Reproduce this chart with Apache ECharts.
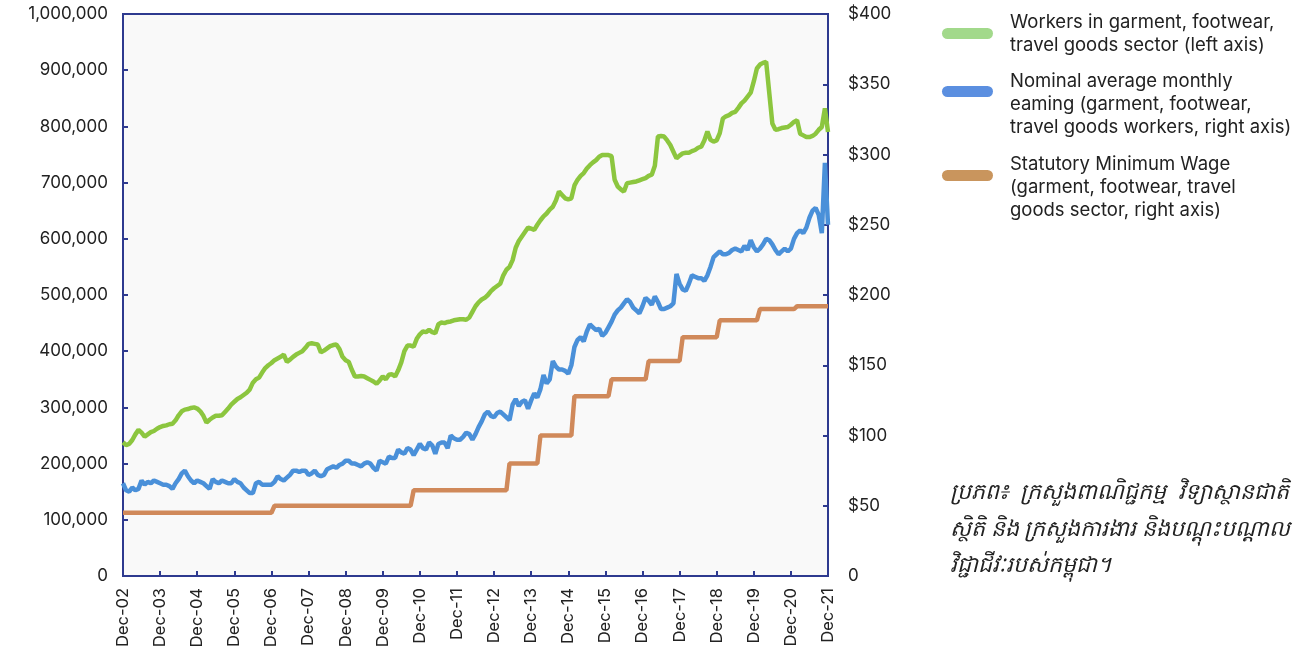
<!DOCTYPE html>
<html>
<head>
<meta charset="utf-8">
<script src="https://cdn.jsdelivr.net/npm/echarts@6/dist/echarts.min.js"></script>
<style>
html,body{margin:0;padding:0;background:#ffffff;}
#chart{width:1306px;height:652px;}
</style>
</head>
<body>
<div id="chart"></div>
<script>
// ---- Categories (monthly, Dec-02 .. Dec-21) ----
const monthNames = ['Jan','Feb','Mar','Apr','May','Jun','Jul','Aug','Sep','Oct','Nov','Dec'];
const categories = ['Dec-02'];
for (let y = 2003; y <= 2021; y++) {
  for (let m = 0; m < 12; m++) categories.push(monthNames[m] + '-' + String(y).slice(2));
}

// ---- Series values ----
// Workers in garment, footwear, travel goods sector (left axis)
const workers = [
  238000,
  233000,235000,242000,252000,260000,255000,248000,252000,256000,258000,262000,265000, // 2003
  267000,268000,270000,271000,277000,286000,293000,296000,297000,299000,300000,298000, // 2004
  293000,285000,273000,278000,282000,285000,285000,286000,292000,298000,305000,310000, // 2005
  315000,318000,322000,326000,332000,344000,350000,353000,362000,370000,375000,379000, // 2006
  384000,387000,390000,394000,381000,385000,390000,394000,397000,400000,406000,413000, // 2007
  414000,413000,412000,398000,401000,405000,409000,411000,412000,404000,390000,384000, // 2008
  381000,367000,355000,355000,356000,355000,352000,349000,346000,342000,348000,355000, // 2009
  350000,358000,359000,355000,366000,380000,400000,410000,410000,408000,422000,430000, // 2010
  435000,434000,438000,434000,432000,448000,451000,450000,452000,453000,455000,456000, // 2011
  457000,457000,456000,460000,470000,480000,487000,492000,495000,500000,507000,512000, // 2012
  516000,520000,535000,545000,550000,562000,584000,596000,604000,612000,620000,618000, // 2013
  616000,625000,633000,640000,645000,652000,657000,668000,684000,678000,672000,670000, // 2014
  672000,695000,705000,712000,717000,725000,731000,736000,740000,746000,749000,749000, // 2015
  749000,747000,705000,693000,688000,684000,699000,700000,701000,702000,704000,706000, // 2016
  708000,712000,714000,730000,782000,783000,782000,775000,767000,755000,743000,748000, // 2017
  752000,753000,753000,756000,758000,762000,764000,775000,791000,776000,773000,775000, // 2018
  788000,814000,818000,820000,824000,826000,833000,841000,846000,853000,860000,880000, // 2019
  903000,910000,913000,915000,860000,805000,794000,795000,797000,798000,799000,803000, // 2020
  808000,811000,787000,784000,781000,781000,783000,787000,794000,799000,832000,790000  // 2021
];

// Nominal average monthly earning, USD (right axis)
const earnings = [
  66,
  61,60,63,61,62,68,65,67,66,68,67,66,             // 2003
  65,65,64,62,66,69,73,75,71,68,66,68,             // 2004
  67,66,64,62,69,67,66,68,67,66,66,69,             // 2005
  67,66,63,61,59,59,66,67,65,65,65,65,             // 2006
  67,71,69,68,70,72,75,75,74,75,75,72,             // 2007
  73,75,72,71,72,76,77,78,77,79,80,82,             // 2008
  82,80,80,79,78,80,81,80,77,75,82,81,             // 2009
  80,85,84,84,90,88,87,91,90,86,90,94,             // 2010
  91,90,95,93,87,94,95,95,91,100,98,97,            // 2011
  97,99,102,101,97,101,106,110,115,117,114,113,    // 2012
  116,117,115,113,111,122,126,121,124,125,119,125, // 2013
  130,127,133,143,137,140,153,149,147,147,146,144, // 2014
  150,163,168,170,167,174,179,177,175,176,171,173, // 2015
  177,181,186,189,191,194,197,195,191,189,187,192, // 2016
  198,196,193,199,195,190,190,191,192,194,215,208, // 2017
  204,203,208,214,213,212,212,210,214,220,227,229, // 2018
  231,229,229,230,232,233,232,231,235,232,239,234, // 2019
  231,233,236,240,239,236,232,229,231,233,231,233, // 2020
  240,244,246,244,248,255,260,262,257,244,294,250  // 2021
];

// Statutory minimum wage, USD (right axis)
const minWage = [
  45,
  45,45,45,45,45,45,45,45,45,45,45,45,             // 2003
  45,45,45,45,45,45,45,45,45,45,45,45,             // 2004
  45,45,45,45,45,45,45,45,45,45,45,45,             // 2005
  45,45,45,45,45,45,45,45,45,45,45,45,             // 2006
  50,50,50,50,50,50,50,50,50,50,50,50,             // 2007
  50,50,50,50,50,50,50,50,50,50,50,50,             // 2008
  50,50,50,50,50,50,50,50,50,50,50,50,             // 2009
  50,50,50,50,50,50,50,50,50,61,61,61,             // 2010
  61,61,61,61,61,61,61,61,61,61,61,61,             // 2011
  61,61,61,61,61,61,61,61,61,61,61,61,             // 2012
  61,61,61,61,80,80,80,80,80,80,80,80,             // 2013
  80,80,100,100,100,100,100,100,100,100,100,100,   // 2014
  100,128,128,128,128,128,128,128,128,128,128,128, // 2015
  128,140,140,140,140,140,140,140,140,140,140,140, // 2016
  140,153,153,153,153,153,153,153,153,153,153,153, // 2017
  170,170,170,170,170,170,170,170,170,170,170,170, // 2018
  182,182,182,182,182,182,182,182,182,182,182,182, // 2019
  182,190,190,190,190,190,190,190,190,190,190,190, // 2020
  190,192,192,192,192,192,192,192,192,192,192,192  // 2021
];

// ---- Texts ----
const seriesNames = [
  'Workers in garment, footwear, travel goods sector (left axis)',
  'Nominal average monthly earning (garment, footwear, travel goods workers, right axis)',
  'Statutory Minimum Wage (garment, footwear, travel goods sector, right axis)'
];
const legendLines = [
  ['Workers in garment, footwear,', 'travel goods sector (left axis)'],
  ['Nominal average monthly', 'eaming (garment, footwear,', 'travel goods workers, right axis)'],
  ['Statutory Minimum Wage', '(garment, footwear, travel', 'goods sector, right axis)']
];
const sourceLines = [
  'ប្រភព៖  ក្រសួងពាណិជ្ជកម្ម  វិទ្យាស្ថានជាតិ',
  'ស្ថិតិ និង ក្រសួងការងារ និងបណ្តុះបណ្តាល',
  'វិជ្ជាជីវៈរបស់កម្ពុជា។'
];

// ---- Styles ----
const FONT = 'Inter, "Open Sans", sans-serif';
const AXIS_COLOR = '#2E3A8F';
const lineColors = ['#8CC63F', '#4A90D9', '#D0895A'];
const legendColors = ['#A2D98B', '#5B8FE0', '#C9955D'];
const legendCenters = [33.5, 91.5, 175.5];
const legendLineTop = [[22, 45], [81, 104, 127], [164, 187, 210]];

const graphics = [];
legendLines.forEach((lines, k) => {
  graphics.push({
    type: 'rect',
    shape: { x: 942, y: legendCenters[k] - 5.5, width: 51, height: 11, r: 5.5 },
    style: { fill: legendColors[k] },
    silent: true
  });
  lines.forEach((t, j) => {
    graphics.push({
      type: 'text',
      x: 1010, y: legendLineTop[k][j],
      style: { text: t, font: '18.5px ' + FONT, fill: '#222222', textVerticalAlign: 'middle', textAlign: 'left' },
      silent: true
    });
  });
});
const sourceY = [493, 530, 566];
sourceLines.forEach((t, j) => {
  graphics.push({
    type: 'text',
    x: 950, y: sourceY[j],
    style: { text: t, font: 'italic 22px "Noto Sans", "DejaVu Sans", sans-serif', fill: '#222222', textVerticalAlign: 'middle', textAlign: 'left' },
    silent: true
  });
});

const chart = echarts.init(document.getElementById('chart'), null, { renderer: 'canvas' });
chart.setOption({
  animation: false,
  backgroundColor: '#ffffff',
  textStyle: { fontFamily: FONT },
  grid: {
    left: 123, right: 478, top: 14, bottom: 76,
    show: true, backgroundColor: '#F9F9F9', borderColor: AXIS_COLOR, borderWidth: 2,
    containLabel: false
  },
  xAxis: {
    type: 'category',
    data: categories,
    boundaryGap: false,
    axisLine: { show: true, lineStyle: { color: AXIS_COLOR, width: 2 } },
    axisTick: { show: true, inside: true, length: 5, interval: 11, lineStyle: { color: AXIS_COLOR, width: 2 } },
    axisLabel: { interval: 11, rotate: 90, fontSize: 16.5, color: '#222222', margin: 12, fontFamily: FONT },
    splitLine: { show: false }
  },
  yAxis: [
    {
      type: 'value', position: 'left', min: 0, max: 1000000, interval: 100000,
      axisLine: { show: true, lineStyle: { color: AXIS_COLOR, width: 2 } },
      axisTick: { show: true, inside: true, length: 5, lineStyle: { color: AXIS_COLOR, width: 2 } },
      axisLabel: { fontSize: 17, color: '#222222', margin: 15, fontFamily: FONT,
        formatter: v => v.toLocaleString('en-US') },
      splitLine: { show: false }
    },
    {
      type: 'value', position: 'right', min: 0, max: 400, interval: 50,
      axisLine: { show: true, lineStyle: { color: AXIS_COLOR, width: 2 } },
      axisTick: { show: true, inside: true, length: 5, lineStyle: { color: AXIS_COLOR, width: 2 } },
      axisLabel: { fontSize: 17, color: '#222222', margin: 20, fontFamily: FONT,
        formatter: v => v === 0 ? '0' : '$' + v },
      splitLine: { show: false }
    }
  ],
  series: [
    { name: seriesNames[0], type: 'line', yAxisIndex: 0, data: workers, showSymbol: false,
      lineStyle: { color: lineColors[0], width: 4.5 }, itemStyle: { color: lineColors[0] } },
    { name: seriesNames[1], type: 'line', yAxisIndex: 1, data: earnings, showSymbol: false,
      lineStyle: { color: lineColors[1], width: 4.5 }, itemStyle: { color: lineColors[1] } },
    { name: seriesNames[2], type: 'line', yAxisIndex: 1, data: minWage, showSymbol: false,
      lineStyle: { color: lineColors[2], width: 4.5 }, itemStyle: { color: lineColors[2] } }
  ],
  graphic: graphics
});
</script>
</body>
</html>
